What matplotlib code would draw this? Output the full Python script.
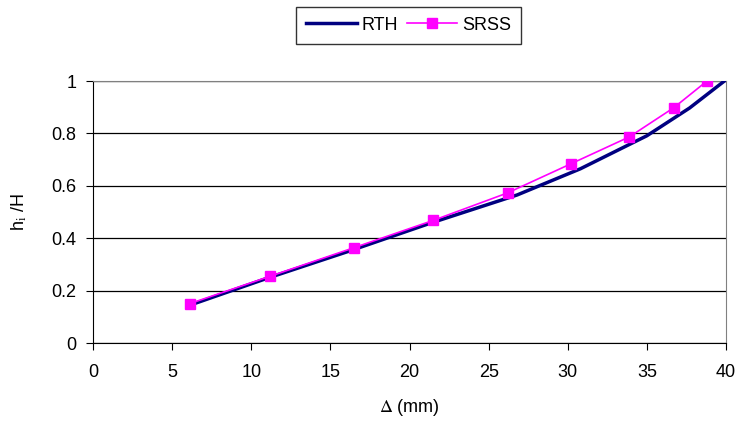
import matplotlib
matplotlib.use("Agg")
from matplotlib import pyplot as plt

plt.rcParams["font.family"] = ["Liberation Sans", "DejaVu Sans"]
plt.rcParams["mathtext.fontset"] = "stix"

FONTSIZE = 13

# SRSS points
srss_x = [6.1, 11.2, 16.5, 21.5, 26.2, 30.2, 33.9, 36.7, 38.8]
srss_y = [0.150, 0.255, 0.364, 0.468, 0.573, 0.684, 0.787, 0.898, 1.0]

# RTH line
rth_x = [6.1, 11.0, 16.3, 21.3, 26.8, 30.8, 35.0, 37.7, 39.9]
rth_y = [0.144, 0.247, 0.353, 0.457, 0.565, 0.665, 0.791, 0.897, 1.0]

fig = plt.figure(figsize=(7.4, 4.24), dpi=100)
ax = fig.add_axes([93 / 740, 1 - 343 / 424, (726 - 93) / 740, (343 - 81) / 424])

ax.plot(rth_x, rth_y, color="#000080", lw=2.5, label="RTH", zorder=3)
ax.plot(srss_x, srss_y, color="#FF00FF", lw=1.2, marker="s", markersize=7,
        label="SRSS", zorder=4)

ax.set_xlim(0, 40)
ax.set_ylim(0, 1)
ax.set_xticks(range(0, 41, 5))
ax.set_yticks([0, 0.2, 0.4, 0.6, 0.8, 1])
ax.set_yticklabels(["0", "0.2", "0.4", "0.6", "0.8", "1"])
ax.tick_params(direction="out", length=5, labelsize=FONTSIZE, color="black")
ax.tick_params(axis="x", pad=10)
ax.tick_params(axis="y", pad=7)
ax.yaxis.grid(True, color="black", lw=0.9)
ax.set_axisbelow(True)

for s in ["top", "right"]:
    ax.spines[s].set_color("#808080")
for s in ["left", "bottom"]:
    ax.spines[s].set_color("black")

ax.set_xlabel(r"$\Delta$ (mm)", fontsize=FONTSIZE, labelpad=12)
ax.set_ylabel(r"h$_\mathrm{i}$ /H", fontsize=FONTSIZE, labelpad=16)

leg = fig.legend(loc="upper center", bbox_to_anchor=(0.552, 0.984), ncol=2,
                 fontsize=FONTSIZE, frameon=True, fancybox=False,
                 edgecolor="black", handlelength=2.8, columnspacing=0.5,
                 handletextpad=0.25, borderpad=0.55, borderaxespad=0)
leg.get_frame().set_linewidth(1)

fig.savefig("out.png", dpi=100)
